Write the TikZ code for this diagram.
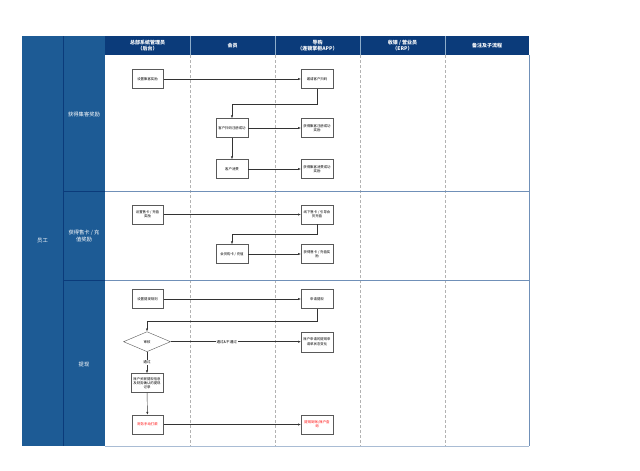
\documentclass[tikz,border=0pt]{standalone}
\usepackage{fontspec}
\setmainfont{Noto Sans CJK SC}
\usetikzlibrary{arrows.meta,shapes.geometric}
\definecolor{hdr}{HTML}{0B3B7A}
\definecolor{lane}{HTML}{1D5B95}
\definecolor{sep}{HTML}{7090B8}
\begin{document}
\begin{tikzpicture}[x=1pt,y=-1pt,
 box/.style={draw=black!65, line width=0.4pt, fill=white, minimum width=31.6pt, minimum height=19pt, inner sep=0.5pt, align=center, font=\fontsize{3.4}{4.3}\selectfont},
 redbox/.style={box, text=red},
 dia/.style={diamond, draw=black!65, line width=0.4pt, fill=white, minimum width=47pt, minimum height=20pt, aspect=2.35, inner sep=0pt, font=\fontsize{3.4}{4.3}\selectfont},
 flow/.style={draw=black!80, line width=0.45pt, -{Latex[length=3pt,width=2.2pt]}},
 elabel/.style={fill=white, inner sep=0.8pt, font=\fontsize{3.6}{4.3}\selectfont},
 hd/.style={text=white, align=center, font=\fontsize{5}{5.8}\selectfont\bfseries},
 ln/.style={text=white, align=center, font=\fontsize{5.3}{7}\selectfont},
 dsh/.style={draw=black!30, line width=0.4pt, dash pattern=on 3pt off 2pt},
 sepl/.style={draw=sep, line width=0.6pt}
]
\fill[white] (0,0) rectangle (640,471);
\useasboundingbox (0,0) rectangle (640,471);
% left columns
\fill[lane] (22,36) rectangle (105,446);
\draw[hdr, line width=0.6pt] (63,36) -- (63,446);
\draw[hdr, line width=0.6pt] (63,191) -- (105,191);
\draw[hdr, line width=0.6pt] (63,280) -- (105,280);
% header
\fill[hdr] (105,36) rectangle (529,55);
\foreach \x in {190,275,360,445} {\draw[lane!50!white, line width=0.3pt] (\x,36) -- (\x,55);}
% body lines
\foreach \x in {190,275,360,445} {\draw[dsh] (\x,55) -- (\x,446);}
\draw[sepl] (105,191) -- (529,191);
\draw[sepl] (105,280) -- (529,280);
\draw[sepl] (529,55) -- (529,446);
\draw[sep!60, line width=0.6pt] (105,446) -- (529,446);
% header texts
\node[hd] (h1) at (147.5,45.5) {总部系统管理员\\（后台）};
\node[hd] (h2) at (232.5,45.5) {会员};
\node[hd] (h3) at (317.5,45.5) {导购\\（连锁掌柜APP）};
\node[hd] (h4) at (402.5,45.5) {收银 / 营业员\\（ERP）};
\node[hd] (h5) at (487,45.5) {备注及子流程};
% lane labels
\node[ln] (l0) at (42.5,241) {员工};
\node[ln] (l1) at (84,114) {获得集客奖励};
\node[ln] (l2) at (84,236) {获得售卡 / 充\\值奖励};
\node[ln] (l3) at (84,364) {提现};
% section 1
\node[box] (a1) at (147.5,79) {设置集客奖励};
\node[box] (a2) at (317,79) {邀请客户扫码};
\node[box] (a3) at (232,128) {客户扫码注册成功};
\node[box] (a4) at (317,128) {获得集客注册成功\\奖励};
\node[box] (a5) at (232,169) {客户消费};
\node[box] (a6) at (317,169) {获得集客消费成功\\奖励};
\draw[flow] (a1) -- (a2);
\draw[flow] (a2.south) -- ++(0,15.3) -| (a3.north);
\draw[flow] (a3) -- (a4);
\draw[flow] (a3) -- (a5);
\draw[flow] (a5) -- (a6);
% section 2
\node[box] (b1) at (147.5,214.5) {设置售卡 / 充值\\奖励};
\node[box] (b2) at (317,214.5) {线下售卡 / 引导会\\员充值};
\node[box] (b3) at (232,254) {会员购卡 / 充值};
\node[box] (b4) at (317,254) {获得售卡 / 充值奖\\励};
\draw[flow] (b1) -- (b2);
\draw[flow] (b2.south) -- ++(0,10) -| (b3.north);
\draw[flow] (b3) -- (b4);
% section 3
\node[box] (c1) at (147.5,299) {设置提现规则};
\node[box] (c2) at (317,299) {申请提现};
\node[dia] (c3) at (147,341.7) {审核};
\node[box, minimum height=20pt] (c4) at (317,341.7) {账户申请的提现申\\请单状态变化};
\node[box] (c5) at (147,383) {账户关联提现信息\\及财务确认的提现\\记录};
\node[redbox] (c6) at (147.5,424.5) {财务手动打款};
\node[redbox] (c7) at (317,424.5) {提现到账/账户查\\询};
\draw[flow] (c1) -- (c2);
\draw[flow] (c2.south) -- ++(0,12.5) -| (c3.north);
\draw[flow] (c3) -- node[elabel, pos=0.43] {通过\&不通过} (c4);
\draw[flow] (c3) -- node[elabel] {通过} (c5);
\draw[flow] (c5) -- (c6);
\draw[flow] (c6) -- (c7);
\end{tikzpicture}
\end{document}
